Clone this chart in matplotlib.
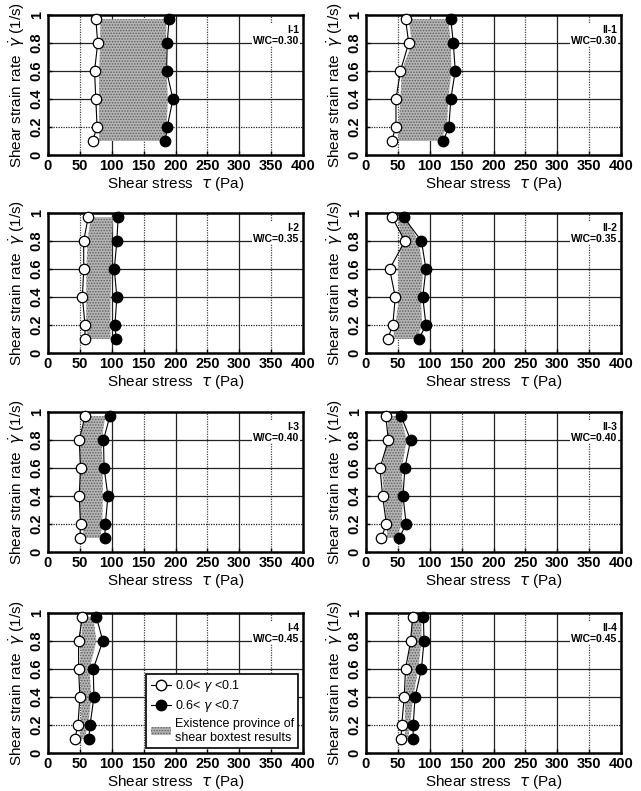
import matplotlib.pyplot as plt
from matplotlib.patches import Patch
from matplotlib.lines import Line2D

plt.rcParams['font.family'] = ['Liberation Sans', 'DejaVu Sans']
plt.rcParams['hatch.color'] = '#5e5e5e'
plt.rcParams['hatch.linewidth'] = 0.7

# strain rate levels (1/s)
rates = [0.1, 0.2, 0.4, 0.6, 0.8, 0.97]

# shear stress (Pa) at each rate: open = 0.0<gamma<0.1, filled = 0.6<gamma<0.7
i1_open = [70, 77, 75, 73, 78, 75]
i1_filled = [184, 187, 196, 186, 187, 190]
i1_shade_left = [80, 80, 80, 80, 82, 82]
i1_shade_right = [185, 186, 188, 186, 185, 186]

ii1_open = [40, 47, 47, 54, 67, 62]
ii1_filled = [121, 130, 133, 140, 137, 133]
ii1_shade_left = [51, 51, 54, 56, 72, 67]
ii1_shade_right = [116, 127, 129, 134, 133, 129]

i2_open = [58, 58, 54, 56, 56, 63]
i2_filled = [107, 105, 108, 104, 108, 110]
i2_shade_left = [62, 60, 60, 60, 62, 67]
i2_shade_right = [98, 98, 98, 100, 100, 102]

ii2_open = [34, 42, 46, 37, 61, 41]
ii2_filled = [83, 94, 89, 94, 87, 59]
ii2_shade_left = [42, 46, 52, 50, 56, 50]
ii2_shade_right = [80, 88, 86, 90, 82, 62]

i3_open = [50, 51, 49, 51, 49, 58]
i3_filled = [89, 90, 94, 88, 87, 97]
i3_shade_left = [58, 52, 50, 50, 50, 58]
i3_shade_right = [82, 85, 86, 86, 84, 90]

ii3_open = [24, 32, 26, 22, 35, 31]
ii3_filled = [52, 63, 58, 61, 70, 55]
ii3_shade_left = [33, 33, 28, 25, 33, 35]
ii3_shade_right = [48, 56, 58, 56, 64, 54]

i4_open = [42, 47, 50, 48, 48, 54]
i4_filled = [64, 66, 72, 71, 86, 76]
i4_shade_left = [50, 52, 52, 50, 52, 55]
i4_shade_right = [57, 63, 68, 65, 76, 71]

ii4_open = [55, 56, 60, 62, 70, 73]
ii4_filled = [74, 74, 77, 87, 91, 90]
ii4_shade_left = [61, 61, 61, 65, 69, 74]
ii4_shade_right = [66, 69, 74, 82, 87, 87]

names = ['I-1', 'II-1', 'I-2', 'II-2', 'I-3', 'II-3', 'I-4', 'II-4']
wc_labels = ['W/C=0.30', 'W/C=0.30', 'W/C=0.35', 'W/C=0.35',
             'W/C=0.40', 'W/C=0.40', 'W/C=0.45', 'W/C=0.45']
panels = [
    (i1_open, i1_filled, i1_shade_left, i1_shade_right),
    (ii1_open, ii1_filled, ii1_shade_left, ii1_shade_right),
    (i2_open, i2_filled, i2_shade_left, i2_shade_right),
    (ii2_open, ii2_filled, ii2_shade_left, ii2_shade_right),
    (i3_open, i3_filled, i3_shade_left, i3_shade_right),
    (ii3_open, ii3_filled, ii3_shade_left, ii3_shade_right),
    (i4_open, i4_filled, i4_shade_left, i4_shade_right),
    (ii4_open, ii4_filled, ii4_shade_left, ii4_shade_right),
]

W, H = 641, 791
fig = plt.figure(figsize=(W / 100, H / 100), dpi=100)

col_left = [48, 366]
row_top = [15, 213, 412, 613]
ax_w, ax_h = 255, 140
shade_face = '#b4b4b4'

for k, (name, wc, (op, fl, sl, sr)) in enumerate(zip(names, wc_labels, panels)):
    r, c = divmod(k, 2)
    x0 = col_left[c] / W
    y0 = 1 - (row_top[r] + ax_h) / H
    ax = fig.add_axes([x0, y0, ax_w / W, ax_h / H])

    ax.set_xlim(0, 400)
    ax.set_ylim(0, 1)
    ax.set_xticks(range(0, 401, 50))
    ax.set_yticks([0, 0.2, 0.4, 0.6, 0.8, 1])
    ax.set_yticklabels(['0', '0.2', '0.4', '0.6', '0.8', '1'], rotation=90, va='center')
    ax.tick_params(direction='in', length=3, width=1, labelsize=10.5, pad=3)
    for lab in ax.get_xticklabels() + ax.get_yticklabels():
        lab.set_fontweight('bold')
    for sp in ax.spines.values():
        sp.set_linewidth(1.8)

    # grid: heavier at 100s, lighter dotted at the 50s
    for xv in range(50, 400, 50):
        if xv % 100 == 0:
            ax.axvline(xv, color='#222222', lw=0.9, zorder=1)
        else:
            ax.axvline(xv, color='#444444', lw=0.9, ls=(0, (1, 1)), zorder=1)
    for yv in [0.2, 0.4, 0.6, 0.8]:
        ax.axhline(yv, color='#222222', lw=0.9, ls='-' if yv > 0.3 else (0, (1, 1)), zorder=1)

    ax.fill_betweenx(rates, sl, sr, facecolor=shade_face, hatch='......',
                     edgecolor='#5e5e5e', linewidth=0, zorder=2)

    ax.plot(op, rates, '-', color='black', lw=0.8, marker='o', ms=7.5,
            mfc='white', mec='black', mew=0.9, zorder=4, clip_on=False)
    ax.plot(fl, rates, '-', color='black', lw=0.8, marker='o', ms=7.5,
            mfc='black', mec='black', zorder=4, clip_on=False)

    ax.text(0.985, 0.93, name + '\n' + wc, transform=ax.transAxes, ha='right', va='top',
            fontsize=7.5, fontweight='bold', linespacing=1.1,
            bbox=dict(facecolor='white', edgecolor='none', pad=0.5), zorder=5)

    ax.set_xlabel(r'Shear stress  $\tau$ (Pa)', fontsize=11, labelpad=1)
    ax.set_ylabel(r'Shear strain rate  $\dot{\gamma}$ (1/s)', fontsize=11, labelpad=2)

    if name == 'I-4':
        handles = [
            Line2D([0], [0], color='black', lw=0.8, marker='o', ms=7.5,
                   mfc='white', mec='black'),
            Line2D([0], [0], color='black', lw=0.8, marker='o', ms=7.5,
                   mfc='black', mec='black'),
            Patch(facecolor=shade_face, hatch='......', edgecolor='#5e5e5e', lw=0),
        ]
        leg = ax.legend(handles,
                        [r'0.0< $\gamma$ <0.1', r'0.6< $\gamma$ <0.7',
                         'Existence province of\nshear boxtest results'],
                        loc='lower right', fontsize=9, frameon=True, fancybox=False,
                        framealpha=1, edgecolor='black', handlelength=1.6,
                        handletextpad=0.3, borderpad=0.35, labelspacing=0.3,
                        bbox_to_anchor=(1.005, -0.01))
        leg.get_frame().set_linewidth(1.2)
        leg.set_zorder(6)

fig.savefig('out.png', dpi=100)
